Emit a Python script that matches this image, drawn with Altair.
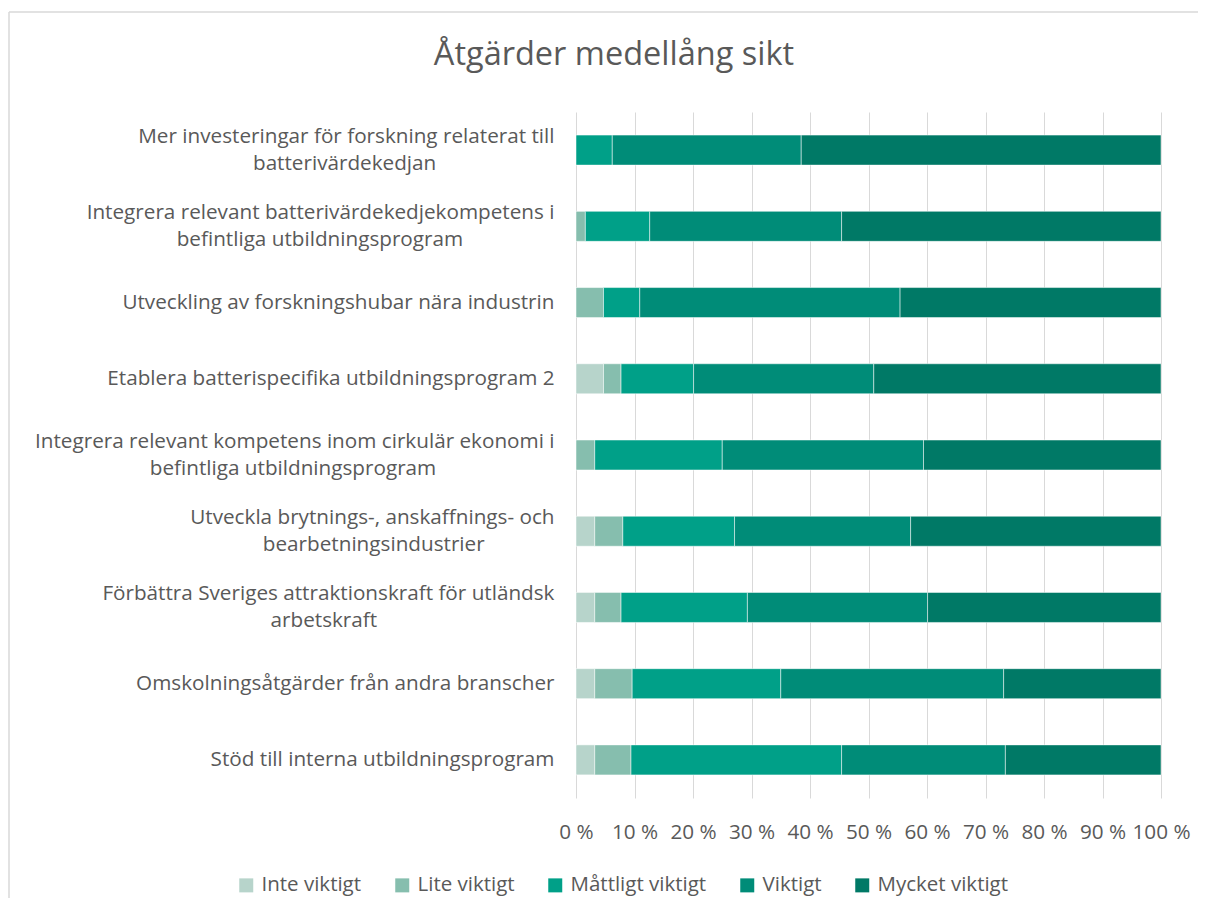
import altair as alt
import pandas as pd

NB = "\u00a0"
END = "\u200b"
categories = [
    "Mer investeringar för forskning relaterat till\nbatterivärdekedjan" + NB * 22 + END,
    "Integrera relevant batterivärdekedjekompetens i\nbefintliga utbildningsprogram" + NB * 17 + END,
    "Utveckling av forskningshubar nära industrin",
    "Etablera batterispecifika utbildningsprogram 2",
    "Integrera relevant kompetens inom cirkulär ekonomi i\nbefintliga utbildningsprogram" + NB * 22 + END,
    "Utveckla brytnings-, anskaffnings- och\nbearbetningsindustrier" + NB * 13 + END,
    "Förbättra Sveriges attraktionskraft för utländsk\narbetskraft" + NB * 33 + END,
    "Omskolningsåtgärder från andra branscher",
    "Stöd till interna utbildningsprogram",
]
levels = ["Inte viktigt", "Lite viktigt", "Måttligt viktigt", "Viktigt", "Mycket viktigt"]
colors = ["#B7D4CB", "#86BEAE", "#00A088", "#008C78", "#007966"]

inte = [0.0, 0.0, 0.0, 4.7, 0.0, 3.2, 3.2, 3.2, 3.2]
lite = [0.0, 1.6, 4.7, 3.0, 3.2, 4.8, 4.5, 6.4, 6.2]
mattligt = [6.2, 11.0, 6.2, 12.4, 21.8, 19.1, 21.6, 25.4, 36.0]
viktigt = [32.3, 32.8, 44.5, 30.8, 34.4, 30.1, 30.8, 38.1, 28.0]
mycket = [61.5, 54.6, 44.6, 49.1, 40.6, 42.8, 39.9, 26.9, 26.6]

title_text = "Åtgärder medellång sikt"

series = [inte, lite, mattligt, viktigt, mycket]
rows = []
for li, (lev, vals) in enumerate(zip(levels, series)):
    for cat, v in zip(categories, vals):
        rows.append({"Åtgärd": cat, "Nivå": lev, "ord": li, "Andel": v})
df = pd.DataFrame(rows)

FONT = "Open Sans"
GREY = "#595959"
FS = 20.7

bars = alt.Chart(df).mark_bar(size=30, stroke="white", strokeWidth=0.5).encode(
    y=alt.Y("Åtgärd:N", sort=categories, title=None,
            scale=alt.Scale(paddingInner=0.6, paddingOuter=0.3),
            axis=alt.Axis(labelExpr="split(datum.value, '\\n')", labelFontSize=FS,
                          labelColor=GREY, labelFont=FONT, labelLineHeight=27,
                          labelOffset=alt.condition("indexof(datum.value, '\\n') >= 0",
                                                    alt.value(-13.5), alt.value(0)),
                          ticks=False, domain=False, labelPadding=22, labelLimit=700)),
    x=alt.X("Andel:Q", stack="normalize", title=None,
            scale=alt.Scale(domain=[0, 1]),
            axis=alt.Axis(values=[i / 10 for i in range(11)],
                          labelExpr="round(datum.value*100) + ' %'",
                          labelFontSize=FS, labelColor=GREY, labelFont=FONT,
                          labelPadding=24, grid=True, gridColor="#D9D9D9",
                          ticks=False, domain=False, labelFlush=False)),
    color=alt.Color("Nivå:N", sort=levels,
                    scale=alt.Scale(domain=levels, range=colors),
                    legend=alt.Legend(orient="none", legendX=-340, legendY=763,
                                      direction="horizontal", title=None,
                                      symbolType="square", symbolSize=196,
                                      symbolStrokeWidth=0, labelOffset=5,
                                      labelFontSize=20.5, labelColor=GREY, labelFont=FONT,
                                      columnPadding=30)),
    order=alt.Order("ord:Q", sort="ascending"),
)

title = alt.Chart(pd.DataFrame({"t": [title_text]})).mark_text(
    fontSize=32.5, font=FONT, color=GREY, align="center", baseline="middle"
).encode(text="t:N", x=alt.value(38), y=alt.value(-57))

frame_df = pd.DataFrame({"k": [0]})
frame_left = alt.Chart(frame_df).mark_rule(color="#D9D9D9", strokeWidth=1.5).encode(
    x=alt.value(-567), y=alt.value(-100), y2=alt.value(786))
frame_top = alt.Chart(frame_df).mark_rule(color="#D9D9D9", strokeWidth=1.5).encode(
    x=alt.value(-567), x2=alt.value(622), y=alt.value(-100))

chart = alt.layer(frame_left, frame_top, bars, title).properties(
    width=585, height=686,
    padding={"left": 0, "top": 3, "right": 0, "bottom": 0},
).configure_view(stroke=None).configure_axis(gridWidth=1)

chart.save("out.html", embed_options={"renderer": "svg", "actions": False})
